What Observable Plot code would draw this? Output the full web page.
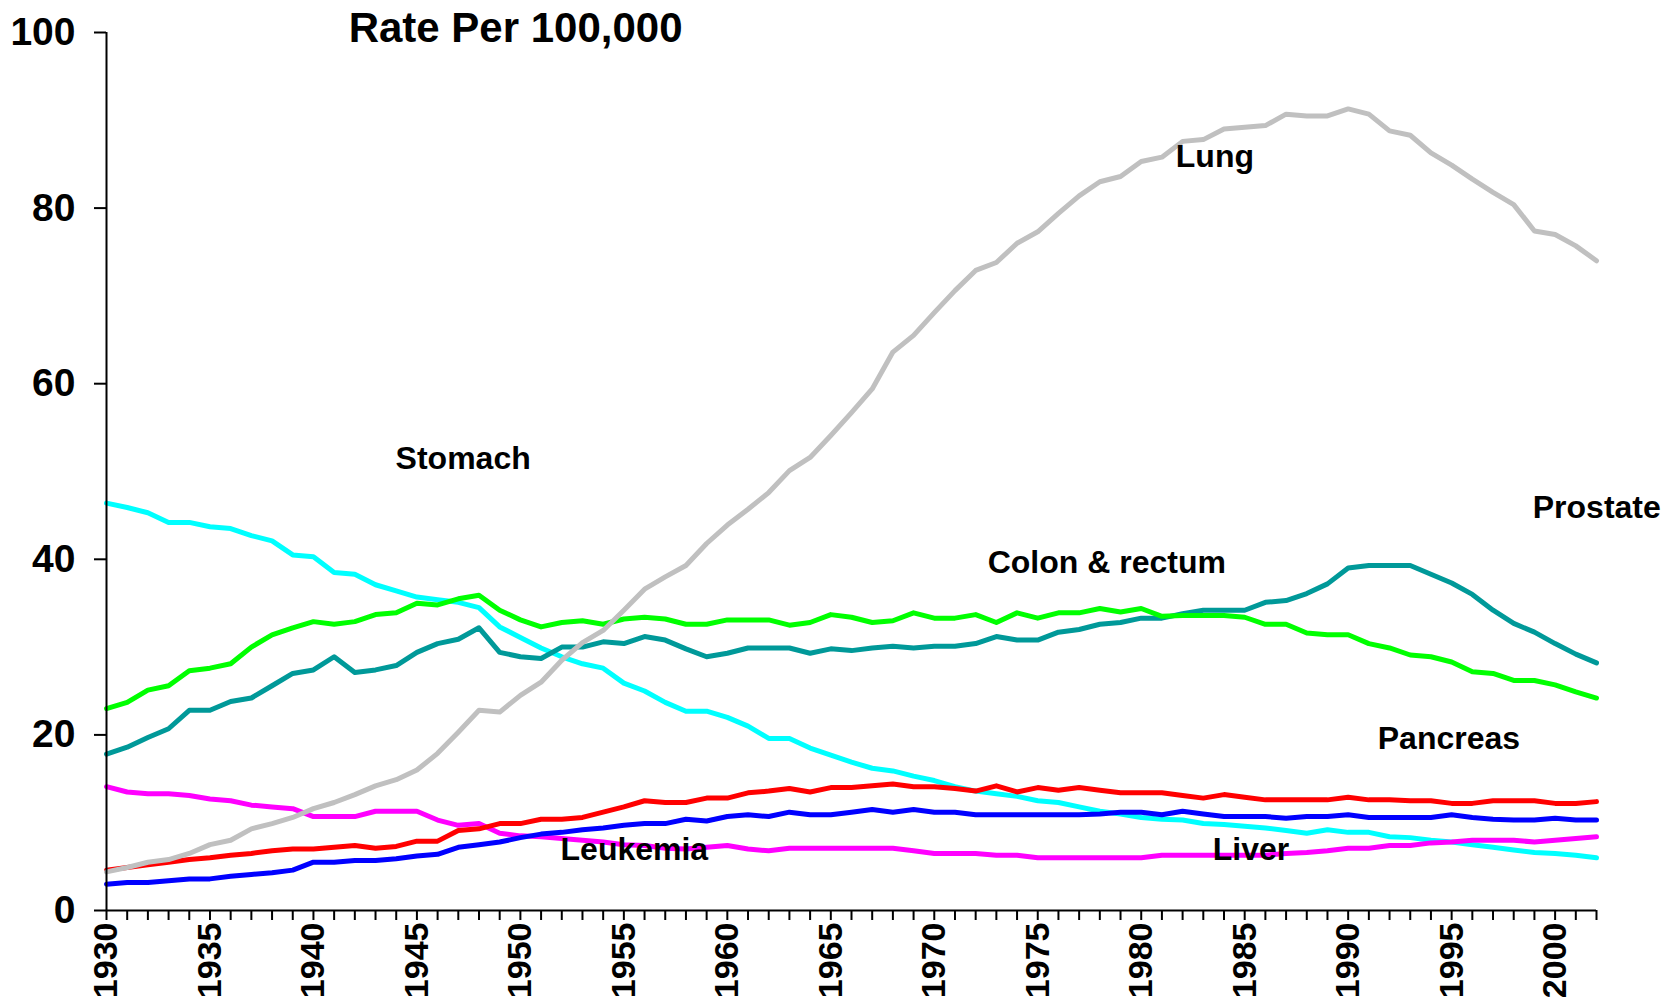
<!DOCTYPE html>
<html>
<head>
<meta charset="utf-8">
<script src="https://cdn.jsdelivr.net/npm/d3@7"></script>
<script src="https://cdn.jsdelivr.net/npm/@observablehq/plot@0.6"></script>
<style>
  html, body { margin: 0; padding: 0; background: #fff; }
  #chart svg text { font-weight: bold; }
</style>
</head>
<body>
<div id="chart"></div>
<script>
const years = d3.range(1930, 2003);

const lung = [
  4.4, 4.9, 5.5, 5.8, 6.5, 7.5, 8.0, 9.3, 9.9, 10.6,
  11.6, 12.3, 13.2, 14.2, 14.9, 16.0, 17.9, 20.3, 22.8, 22.6,
  24.5, 26.0, 28.5, 30.5, 31.9, 34.2, 36.6, 38.0, 39.3, 41.8,
  43.9, 45.7, 47.6, 50.1, 51.6, 54.1, 56.7, 59.4, 63.6, 65.5,
  68.1, 70.6, 72.9, 73.8, 76.0, 77.3, 79.4, 81.4, 83.0, 83.6,
  85.3, 85.8, 87.6, 87.8, 89.0, 89.2, 89.4, 90.7, 90.5, 90.5,
  91.3, 90.7, 88.8, 88.3, 86.3, 84.9, 83.3, 81.8, 80.4, 77.4,
  77.0, 75.7, 74.0
];
const stomach = [
  46.4, 45.9, 45.3, 44.2, 44.2, 43.7, 43.5, 42.7, 42.1, 40.5,
  40.3, 38.5, 38.3, 37.1, 36.4, 35.7, 35.4, 35.1, 34.5, 32.3,
  31.1, 29.9, 28.9, 28.1, 27.6, 25.9, 25.0, 23.7, 22.7, 22.7,
  22.0, 21.0, 19.6, 19.6, 18.5, 17.7, 16.9, 16.2, 15.9, 15.3,
  14.8, 14.1, 13.6, 13.3, 13.0, 12.5, 12.3, 11.8, 11.3, 11.0,
  10.6, 10.4, 10.3, 9.9, 9.8, 9.6, 9.4, 9.1, 8.8, 9.2,
  8.9, 8.9, 8.4, 8.3, 8.0, 7.8, 7.5, 7.2, 6.9, 6.6,
  6.5, 6.3, 6.0
];
const colon = [
  23.0, 23.7, 25.1, 25.6, 27.3, 27.6, 28.1, 30.0, 31.4, 32.2,
  32.9, 32.6, 32.9, 33.7, 33.9, 35.0, 34.8, 35.5, 35.9, 34.2,
  33.1, 32.3, 32.8, 33.0, 32.6, 33.2, 33.4, 33.2, 32.6, 32.6,
  33.1, 33.1, 33.1, 32.5, 32.8, 33.7, 33.4, 32.8, 33.0, 33.9,
  33.3, 33.3, 33.7, 32.8, 33.9, 33.3, 33.9, 33.9, 34.4, 34.0,
  34.4, 33.5, 33.6, 33.6, 33.6, 33.4, 32.6, 32.6, 31.6, 31.4,
  31.4, 30.4, 29.9, 29.1, 28.9, 28.3, 27.2, 27.0, 26.2, 26.2,
  25.7, 24.9, 24.2
];
const prostate = [
  17.8, 18.6, 19.7, 20.7, 22.8, 22.8, 23.8, 24.2, 25.6, 27.0,
  27.4, 28.9, 27.1, 27.4, 27.9, 29.4, 30.4, 30.9, 32.2, 29.4,
  28.9, 28.7, 30.0, 30.0, 30.6, 30.4, 31.2, 30.8, 29.8, 28.9,
  29.3, 29.9, 29.9, 29.9, 29.3, 29.8, 29.6, 29.9, 30.1, 29.9,
  30.1, 30.1, 30.4, 31.2, 30.8, 30.8, 31.7, 32.0, 32.6, 32.8,
  33.3, 33.3, 33.8, 34.2, 34.2, 34.2, 35.1, 35.3, 36.1, 37.2,
  39.0, 39.3, 39.3, 39.3, 38.3, 37.3, 36.0, 34.2, 32.7, 31.7,
  30.4, 29.2, 28.2
];
const pancreas = [
  4.6, 4.9, 5.2, 5.5, 5.8, 6.0, 6.3, 6.5, 6.8, 7.0,
  7.0, 7.2, 7.4, 7.1, 7.3, 7.9, 7.9, 9.1, 9.3, 9.9,
  9.9, 10.4, 10.4, 10.6, 11.2, 11.8, 12.5, 12.3, 12.3, 12.8,
  12.8, 13.4, 13.6, 13.9, 13.5, 14.0, 14.0, 14.2, 14.4, 14.1,
  14.1, 13.9, 13.6, 14.2, 13.5, 14.0, 13.7, 14.0, 13.7, 13.4,
  13.4, 13.4, 13.1, 12.8, 13.2, 12.9, 12.6, 12.6, 12.6, 12.6,
  12.9, 12.6, 12.6, 12.5, 12.5, 12.2, 12.2, 12.5, 12.5, 12.5,
  12.2, 12.2, 12.4
];
const liver = [
  3.0, 3.2, 3.2, 3.4, 3.6, 3.6, 3.9, 4.1, 4.3, 4.6,
  5.5, 5.5, 5.7, 5.7, 5.9, 6.2, 6.4, 7.2, 7.5, 7.8,
  8.3, 8.7, 8.9, 9.2, 9.4, 9.7, 9.9, 9.9, 10.4, 10.2,
  10.7, 10.9, 10.7, 11.2, 10.9, 10.9, 11.2, 11.5, 11.2, 11.5,
  11.2, 11.2, 10.9, 10.9, 10.9, 10.9, 10.9, 10.9, 11.0, 11.2,
  11.2, 10.9, 11.3, 11.0, 10.7, 10.7, 10.7, 10.5, 10.7, 10.7,
  10.9, 10.6, 10.6, 10.6, 10.6, 10.9, 10.6, 10.4, 10.3, 10.3,
  10.5, 10.3, 10.3
];
const leukemia = [
  14.1, 13.5, 13.3, 13.3, 13.1, 12.7, 12.5, 12.0, 11.8, 11.6,
  10.7, 10.7, 10.7, 11.3, 11.3, 11.3, 10.3, 9.7, 9.9, 8.8,
  8.5, 8.4, 8.2, 8.0, 7.8, 7.5, 7.4, 7.1, 7.0, 7.2,
  7.4, 7.0, 6.8, 7.1, 7.1, 7.1, 7.1, 7.1, 7.1, 6.8,
  6.5, 6.5, 6.5, 6.3, 6.3, 6.0, 6.0, 6.0, 6.0, 6.0,
  6.0, 6.3, 6.3, 6.3, 6.3, 6.3, 6.3, 6.5, 6.6, 6.8,
  7.1, 7.1, 7.4, 7.4, 7.7, 7.8, 8.0, 8.0, 8.0, 7.8,
  8.0, 8.2, 8.4
];

const seriesNames = ["Stomach", "Leukemia", "Liver", "Pancreas", "Prostate", "Colon & rectum", "Lung"];
const seriesValues = [stomach, leukemia, liver, pancreas, prostate, colon, lung];
const seriesColors = ["#00FFFF", "#FF00FF", "#0000FF", "#FF0000", "#009999", "#00FF00", "#C0C0C0"];

const yTicks = [0, 20, 40, 60, 80, 100];
const xLabelTicks = d3.range(1930, 2001, 5);

const labelNames = ["Lung", "Stomach", "Colon & rectum", "Prostate", "Pancreas", "Liver", "Leukemia"];
const labelYears = [1981.67, 1943.97, 1972.58, 1998.92, 1991.43, 1983.46, 1951.94];
const labelValues = [85.9, 51.4, 39.6, 45.9, 19.6, 6.9, 6.9];

const titleText = "Rate Per 100,000";

const rows = [];
seriesNames.forEach((name, i) => {
  years.forEach((yr, j) => rows.push({series: name, year: yr, value: seriesValues[i][j]}));
});
const labels = labelNames.map((n, i) => ({name: n, year: labelYears[i], value: labelValues[i]}));

const font = "'Liberation Sans', Arial, Helvetica, sans-serif";

const chart = Plot.plot({
  width: 1666,
  height: 1003,
  marginLeft: 106,
  marginRight: 70,
  marginTop: 32,
  marginBottom: 93,
  style: {fontFamily: font, background: "#fff", color: "#000", overflow: "visible"},
  x: {domain: [1930, 2002], axis: null},
  y: {domain: [0, 100], axis: null},
  color: {domain: seriesNames, range: seriesColors},
  marks: [
    Plot.lineY(rows, {x: "year", y: "value", z: "series", stroke: "series", strokeWidth: 5, strokeLinejoin: "round", strokeLinecap: "round"}),
    Plot.ruleX([1930], {y1: 0, y2: 100, stroke: "#000", strokeWidth: 2}),
    Plot.ruleY([0], {x1: 1930, x2: 2002, stroke: "#000", strokeWidth: 2}),
    Plot.axisY({ticks: yTicks, label: null, tickSize: 12, tickPadding: 19, fontSize: 39, fontWeight: "bold", strokeWidth: 2, tickFormat: d => String(d), fill: "#000", stroke: "#000"}),
    Plot.axisX({ticks: years, label: null, tickSize: 10, text: null, strokeWidth: 2, stroke: "#000"}),
    Plot.axisX({ticks: xLabelTicks, label: null, tickSize: 0, tickPadding: 12, tickRotate: -90, fontSize: 34, fontWeight: "bold", tickFormat: d => String(d), fill: "#000"}),
    Plot.text(labels, {x: "year", y: "value", text: "name", textAnchor: "start", lineAnchor: "middle", fontSize: 32, fontWeight: "bold", fill: "#000"}),
    Plot.text([titleText], {x: 1941.7, y: 100.4, text: d => d, textAnchor: "start", lineAnchor: "middle", fontSize: 42, fontWeight: "bold", fill: "#000"})
  ]
});
document.getElementById("chart").appendChild(chart);
</script>
</body>
</html>
